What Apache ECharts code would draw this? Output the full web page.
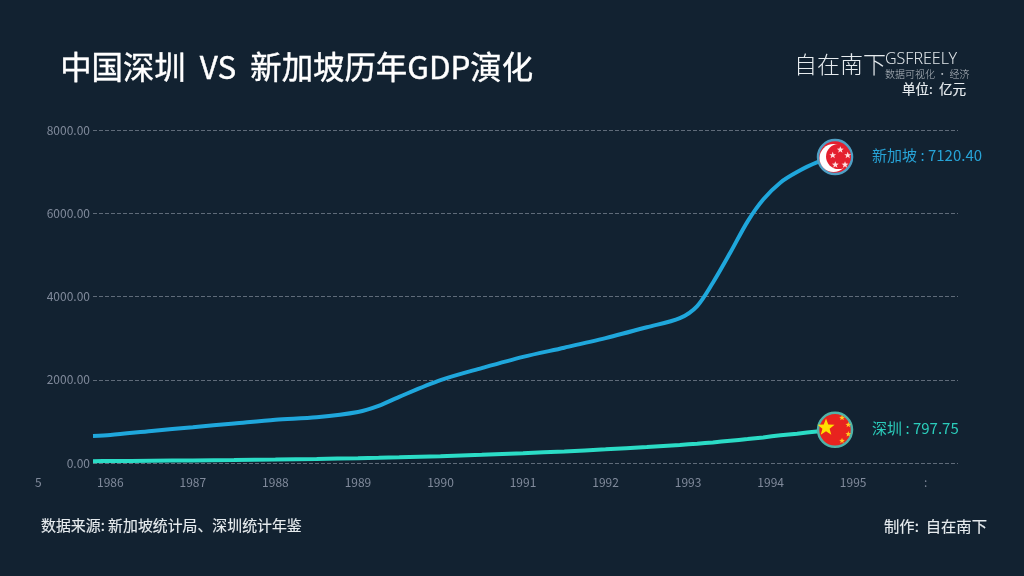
<!DOCTYPE html>
<html><head><meta charset="utf-8">
<script src="https://cdn.jsdelivr.net/npm/echarts@6/dist/echarts.min.js"></script>
<style>html,body{margin:0;padding:0;background:#122231}#c{width:1024px;height:576px}</style>
</head><body><div id="c"></div>
<script>
const years = [1985.79,1986,1986.5,1987,1987.5,1988,1988.5,1989,1989.25,1989.5,1990,1990.5,1991,1991.5,1992,1992.5,1992.9,1993.11,1993.3,1993.51,1993.72,1993.91,1994.12,1994.32,1994.56,1994.78];
const singapore = [650,672,770,860,950,1040,1100,1225,1370,1590,1990,2280,2550,2770,3000,3260,3480,3770,4330,5050,5800,6330,6740,6990,7220,7350];
const shenzhen = [45,48,54,62,72,84,98,115,125,137,165,197,235,278,328,385,435,465,495,535,575,615,665,705,755,797];
const names = ['新加坡','深圳'];
const endLabels = ['7120.40','797.75'];
const title = '中国深圳  VS  新加坡历年GDP演化';
const unit = '单位:  亿元';
const source = '数据来源: 新加坡统计局、深圳统计年鉴';
const maker = '制作:  自在南下';
const colors = ['#1fa7dc','#2bdcc6'];
const font = '"Noto Sans CJK SC","Noto Sans",sans-serif';
const pairs = a => years.map((y,i)=>[y,a[i]]);

function starPts(cx,cy,r,rot){
  const p=[];
  for(let i=0;i<10;i++){
    const a=rot-Math.PI/2+i*Math.PI/5, q=i%2?r*0.42:r;
    p.push([cx+q*Math.cos(a),cy+q*Math.sin(a)]);
  }
  return p;
}
const star=(cx,cy,r,fill,rot=0)=>({type:'polygon',shape:{points:starPts(cx,cy,r,rot)},style:{fill}});

function flag(idx){
  return function(params,api){
    const c=api.coord([api.value(0),api.value(1)]);
    const x=c[0],y=c[1];
    const kids=[{type:'circle',shape:{cx:x,cy:y,r:17},style:{fill:idx?'#e8231f':'#e4202f',stroke:idx?'#4fb3a8':'#4f9fc4',lineWidth:2.5}}];
    if(idx===0){
      kids.push({type:'circle',shape:{cx:x-1.5,cy:y+1,r:14},style:{fill:'#fff'}});
      kids.push({type:'circle',shape:{cx:x+3.5,cy:y-0.5,r:12.5},style:{fill:'#e4202f'}});
      [[5.3,-7.3],[-2.3,-1.7],[12.7,-1.7],[0.3,7.7],[10,7.7]].forEach(s=>kids.push(star(x+s[0],y+s[1],3.6,'#ffdfe0')));
    }else{
      kids.push(star(x-9,y-2.3,9,'#ffe000'));
      [[7,-12],[13.3,-5],[13.3,4.3],[7,11]].forEach(s=>kids.push(star(x+s[0],y+s[1],3,'#ffc81e')));
    }
    kids.push({type:'text',style:{x:x+37,y:y-2,text:names[idx]+' : '+endLabels[idx],fill:idx?'#2bcdbb':'#27a3d6',font:'15px '+font,textVerticalAlign:'middle'}});
    return {type:'group',children:kids};
  };
}

const chart=echarts.init(document.getElementById('c'));
const heavy=(c,w)=>({fill:c,stroke:c,lineWidth:w});
chart.setOption({
  animation:false,
  backgroundColor:'#122231',
  textStyle:{fontFamily:font},
  grid:{left:93,right:66,top:130,height:333,containLabel:false},
  xAxis:{type:'value',min:1985.79,max:1996.27,minInterval:1,maxInterval:1,
    axisLine:{show:false},axisTick:{show:false},splitLine:{show:false},
    axisLabel:{color:'#808a9b',fontSize:12,margin:13,fontFamily:font,showMinLabel:false,showMaxLabel:false,
      formatter:v=>(Number.isInteger(v)&&v<1996)?String(v):''}},
  yAxis:{type:'value',min:0,max:8000,interval:2000,
    axisLine:{show:false},axisTick:{show:false},
    splitLine:{lineStyle:{type:'dashed',color:'#5f6b79',width:1}},
    axisLabel:{color:'#808a9b',fontSize:12,margin:3,fontFamily:font,formatter:v=>v.toFixed(2)}},
  series:[
    {name:names[0],type:'line',data:pairs(singapore),smooth:0.3,showSymbol:false,lineStyle:{color:colors[0],width:4},z:3},
    {name:names[1],type:'line',data:pairs(shenzhen),smooth:0.3,showSymbol:false,lineStyle:{color:colors[1],width:4},z:3},
    {type:'custom',data:[pairs(singapore).at(-1)],renderItem:flag(0),z:5,clip:false},
    {type:'custom',data:[pairs(shenzhen).at(-1)],renderItem:flag(1),z:5,clip:false}
  ],
  graphic:[
    {type:'text',left:60,top:51,style:{text:title,...heavy('#fff',0.4),font:'400 31.4px '+font}},
    {type:'text',left:794,top:53,style:{text:'自在南下',fill:'#e6ebee',font:'200 23px '+font}},
    {type:'text',left:885,top:51,style:{text:'GSFREELY',fill:'#dfe4e8',font:'300 16px "Noto Sans",sans-serif',letterSpacing:1.5}},
    {type:'text',left:885,top:69,style:{text:'数据可视化 • 经济',fill:'#b5bcc3',font:'300 10px '+font}},
    {type:'text',left:902,top:82,style:{text:unit,...heavy('#e6ebee',0.2),font:'400 13.5px '+font}},
    {type:'text',left:41,top:518,style:{text:source,...heavy('#e6ebee',0.15),font:'400 14.9px '+font}},
    {type:'text',left:884,top:518,style:{text:maker,...heavy('#e6ebee',0.15),font:'400 15.3px '+font}},
    {type:'text',left:35,top:476,style:{text:'5',fill:'#808a9b',font:'12px '+font}},
    {type:'text',left:924,top:476,style:{text:':',fill:'#808a9b',font:'12px '+font}}
  ]
});
</script></body></html>
